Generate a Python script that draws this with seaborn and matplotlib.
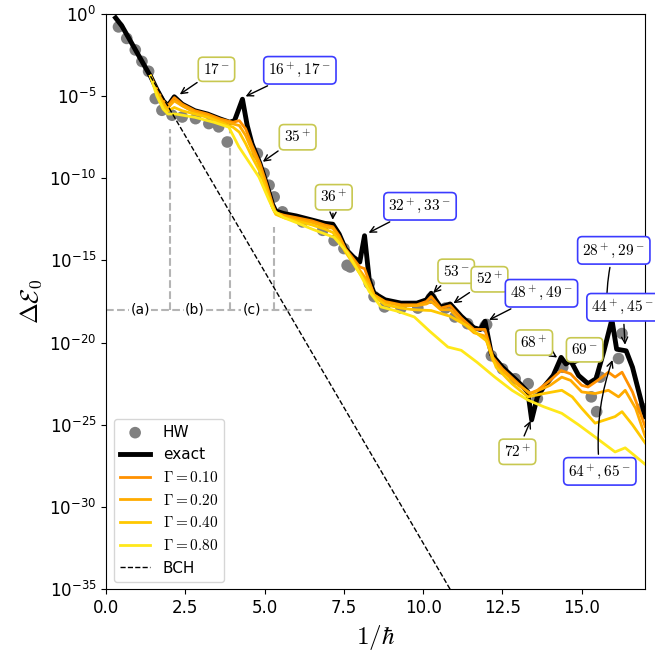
import numpy as np
import pandas as pd
import matplotlib
matplotlib.use("Agg")
import matplotlib.pyplot as plt
import seaborn as sns
from matplotlib.ticker import NullLocator

# ---- data (log10 of the error) ----
hw_x = [0.39, 0.65, 0.92, 1.13, 1.34, 1.55, 1.76, 2.08, 2.4, 2.82, 3.24, 3.55, 3.82,
        4.77, 4.98, 5.14, 5.3, 5.56, 6.19, 6.83, 7.19, 7.5, 7.6, 7.7, 8.3, 8.45, 8.78,
        9.3, 9.83, 10.25, 10.7, 11.0, 11.4, 11.95, 12.0, 12.15, 12.5, 12.9, 13.31,
        13.6, 14.4, 15.3, 15.47, 15.58, 16.16, 16.27, 16.9]
hw_logy = [-0.8, -1.5, -2.2, -2.9, -3.5, -5.16, -5.87, -6.17, -6.28, -6.38, -6.68, -6.88, -7.8,
           -8.5, -9.7, -10.43, -11.14, -12.05, -12.66, -13.17, -13.8, -14.28, -15.3, -15.4,
           -16.4, -17.2, -17.83, -17.9, -17.9, -17.3, -17.9, -18.44, -18.85, -19.0, -18.9,
           -20.8, -21.6, -22.2, -22.5, -23.4, -21.5, -23.3, -24.2, -22.1, -20.97, -19.45, -24.0]

exact_x = [0.3, 0.5, 0.75, 1.0, 1.25, 1.4, 1.6, 1.8, 1.95, 2.15, 2.4, 2.8, 3.2, 3.6, 3.9,
           4.05, 4.3, 4.45, 4.6, 4.85, 5.05, 5.25, 5.35, 5.6, 6.0, 6.5, 6.9, 7.15, 7.35,
           7.55, 7.8, 8.0, 8.15, 8.3, 8.45, 8.8, 9.3, 9.8, 10.1, 10.25, 10.55, 10.85, 11.2,
           11.6, 11.8, 11.95, 12.15, 12.5, 13.0, 13.3, 13.42, 13.6, 13.8, 14.1, 14.35, 14.5,
           14.65, 14.9, 15.2, 15.45, 15.7, 15.95, 16.1, 16.4, 16.6, 16.8, 17.0]
exact_logy = [-0.25, -0.75, -1.6, -2.45, -3.3, -3.8, -4.6, -5.3, -5.6, -5.05, -5.5, -5.9,
              -6.1, -6.4, -6.6, -6.5, -5.2, -6.8, -7.9, -9.1, -10.3, -11.6, -12.0, -12.15,
              -12.3, -12.55, -12.75, -12.8, -13.4, -14.3, -14.8, -15.1, -13.5, -16.2, -17.0,
              -17.4, -17.6, -17.6, -17.4, -17.0, -17.85, -17.65, -18.4, -19.1, -19.2, -18.7,
              -20.7, -21.5, -22.4, -23.0, -24.7, -23.3, -22.7, -22.0, -20.9, -21.3, -21.1,
              -22.0, -22.5, -22.2, -20.5, -18.6, -20.4, -20.5, -21.5, -23.0, -24.5]

g01_x = [1.4, 1.6, 1.8, 1.95, 2.15, 2.4, 2.8, 3.2, 3.6, 4.0, 4.2, 4.4, 4.6, 4.85, 5.05,
         5.25, 5.35, 5.6, 6.0, 6.5, 6.9, 7.15, 7.35, 7.55, 7.8, 8.0, 8.15, 8.3, 8.45, 8.8,
         9.3, 9.8, 10.1, 10.25, 10.55, 10.85, 11.2, 11.6, 11.95, 12.2, 12.5, 13.0, 13.35,
         13.6, 14.0, 14.35, 14.65, 15.0, 15.2, 15.5, 15.84, 16.05, 16.27, 16.6, 17.0]
g01_logy = [-3.8, -4.6, -5.3, -5.6, -5.1, -5.5, -5.9, -6.1, -6.4, -6.6, -6.5, -7.0, -8.0,
            -9.1, -10.3, -11.6, -12.1, -12.25, -12.4, -12.6, -12.85, -12.95, -13.5, -14.3,
            -14.9, -15.4, -15.5, -16.3, -17.1, -17.5, -17.7, -17.7, -17.5, -17.2, -17.9,
            -17.75, -18.5, -19.2, -19.2, -20.9, -21.6, -22.5, -23.1, -22.9, -22.3, -21.7,
            -21.9, -22.6, -22.7, -22.3, -21.8, -22.1, -21.8, -23.0, -25.1]

g02_x = [1.4, 1.6, 1.8, 1.95, 2.15, 2.4, 2.8, 3.2, 3.6, 4.0, 4.2, 4.4, 4.6, 4.85, 5.05,
         5.25, 5.35, 5.6, 6.0, 6.5, 6.9, 7.15, 7.35, 7.55, 7.8, 8.0, 8.3, 8.45, 8.8, 9.3,
         9.8, 10.1, 10.25, 10.55, 10.85, 11.2, 11.6, 11.95, 12.2, 12.5, 13.0, 13.4, 14.0,
         14.37, 14.65, 15.0, 15.42, 15.84, 16.16, 16.37, 16.7, 17.0]
g02_logy = [-3.8, -4.7, -5.4, -5.7, -5.3, -5.6, -6.0, -6.2, -6.5, -6.7, -6.8, -7.4, -8.3,
            -9.3, -10.5, -11.7, -12.1, -12.3, -12.5, -12.7, -12.95, -13.05, -13.6, -14.4,
            -15.0, -15.6, -16.4, -17.1, -17.55, -17.75, -17.75, -17.65, -17.5, -18.0,
            -18.0, -18.7, -19.4, -19.6, -21.1, -21.7, -22.6, -23.1, -22.6, -22.1, -22.3,
            -23.0, -23.1, -22.9, -23.3, -22.9, -24.0, -25.7]

g04_x = [1.4, 1.6, 1.8, 1.95, 2.15, 2.4, 2.8, 3.2, 3.6, 4.0, 4.2, 4.4, 4.6, 4.85, 5.05,
         5.25, 5.35, 5.6, 6.0, 6.5, 6.9, 7.15, 7.35, 7.55, 7.8, 8.0, 8.3, 8.45, 8.8, 9.3,
         9.7, 10.25, 10.85, 11.4, 12.0, 12.3, 12.8, 13.3, 13.8, 14.37, 14.7, 15.0, 15.42,
         16.05, 16.27, 16.6, 17.0]
g04_logy = [-3.8, -4.8, -5.6, -5.9, -5.7, -5.9, -6.1, -6.3, -6.6, -6.9, -7.2, -7.9, -8.7,
            -9.6, -10.7, -11.8, -12.2, -12.4, -12.6, -12.85, -13.1, -13.3, -13.8, -14.5,
            -15.2, -15.8, -16.6, -17.2, -17.7, -17.9, -18.0, -18.05, -18.4, -19.0, -19.9,
            -21.5, -22.5, -23.3, -23.1, -22.9, -23.3, -24.0, -24.9, -24.5, -24.2, -25.0,
            -26.1]

g08_x = [1.4, 1.6, 1.8, 1.95, 2.2, 2.8, 3.4, 3.87, 4.19, 4.5, 4.82, 5.14, 5.3, 5.6, 6.0,
         6.5, 7.19, 7.6, 8.0, 8.3, 8.67, 9.2, 9.72, 10.2, 10.78, 11.2, 11.7, 12.26, 12.8,
         13.31, 13.8, 14.37, 14.9, 15.42, 16.05, 16.37, 17.0]
g08_logy = [-3.8, -5.0, -5.8, -6.1, -6.1, -6.3, -6.6, -6.9, -8.1, -9.0, -9.93, -11.35,
            -12.0, -12.4, -12.7, -13.1, -13.6, -14.5, -15.8, -16.9, -17.83, -18.1, -18.44,
            -19.3, -20.27, -20.47, -21.2, -22.1, -22.9, -23.5, -23.9, -24.3, -25.0, -25.74,
            -26.65, -26.4, -27.4]

bch_x = [1.4, 11.0]
bch_logy = [-3.8, -35.5]

gamma_labels = ["0.10", "0.20", "0.40", "0.80"]
gamma_colors = ["#ff9100", "#ffab00", "#ffc800", "#ffe81a"]

# region markers (a)/(b)/(c)
region_x = [2.0, 3.9, 5.3]
region_top = [-7.0, -7.0, -13.0]
region_level = -18.0
region_names = ["(a)", "(b)", "(c)"]
region_label_x = [1.08, 2.8, 4.6]

# resonance annotations: label, tip, text position, edge colour, curvature
ann_labels = [r"$17^-$", r"$16^+,17^-$", r"$35^+$", r"$36^+$", r"$32^+,33^-$", r"$53^-$",
              r"$52^+$", r"$48^+,49^-$", r"$68^+$", r"$69^-$", r"$72^+$", r"$28^+,29^-$",
              r"$44^+,45^-$", r"$64^+,65^-$"]
ann_tip_x = [2.25, 4.32, 4.87, 7.14, 8.2, 10.25, 10.88, 12.0, 14.3, 14.68, 13.42, 15.8, 16.37, 16.0]
ann_tip_logy = [-5.0, -5.1, -9.1, -12.7, -13.4, -17.1, -17.7, -18.7, -21.0, -21.4, -24.6, -18.1, -20.3, -20.9]
ann_txt_x = [3.48, 6.11, 6.04, 7.18, 9.9, 11.04, 12.09, 13.73, 13.5, 15.09, 12.97, 16.01, 16.3, 15.57]
ann_txt_logy = [-3.38, -3.44, -7.51, -11.16, -11.71, -15.66, -16.15, -17.0, -20.0, -20.44, -26.64, -14.39, -17.85, -27.83]
ann_blue = [False, True, False, False, True, False, False, True, False, False, False, True, True, True]
ann_rad = [0, 0, 0, 0, 0, 0, 0, 0, 0, 0, 0, 0.08, 0, -0.12]

plt.rcParams["mathtext.fontset"] = "cm"

fig = plt.figure(figsize=(6.55, 6.54), dpi=100)
ax = fig.add_axes([0.162, 0.099, 0.823, 0.880])

def pw(v):
    return 10.0 ** np.asarray(v)

sns.scatterplot(x=hw_x, y=pw(hw_logy), ax=ax, color="gray", s=70, edgecolor="none",
                label="HW", zorder=2)
sns.lineplot(x=exact_x, y=pw(exact_logy), ax=ax, color="black", lw=3.5, label="exact",
             sort=False, zorder=3)
for gx, gy, gl, gc in zip([g01_x, g02_x, g04_x, g08_x], [g01_logy, g02_logy, g04_logy, g08_logy],
                          gamma_labels, gamma_colors):
    sns.lineplot(x=gx, y=pw(gy), ax=ax, color=gc, lw=2, label=rf"$\Gamma = {gl}$",
                 sort=False, zorder=4)
sns.lineplot(x=bch_x, y=pw(bch_logy), ax=ax, color="black", lw=1, ls="--", label="BCH",
             sort=False, zorder=5)

# dashed region boundaries
ax.plot([0, 6.5], [10.0 ** region_level] * 2, color="#b4b4b4", ls="--", lw=1.5, zorder=1)
for rx, rt in zip(region_x, region_top):
    ax.plot([rx, rx], [10.0 ** region_level, 10.0 ** rt], color="#b4b4b4", ls="--", lw=1.5, zorder=1)
for lx, name in zip(region_label_x, region_names):
    ax.text(lx, 10.0 ** region_level, name, ha="center", va="center", fontsize=10,
            bbox=dict(facecolor="white", edgecolor="none", pad=1), zorder=1.5)

for lab, tx, ty, px, py, blue, rad in zip(ann_labels, ann_tip_x, ann_tip_logy, ann_txt_x,
                                         ann_txt_logy, ann_blue, ann_rad):
    ec = "#3b3bff" if blue else "#c8c850"
    ax.annotate(lab, xy=(tx, 10.0 ** ty), xytext=(px, 10.0 ** py), fontsize=11,
                ha="center", va="center", annotation_clip=False,
                bbox=dict(boxstyle="round,pad=0.3", facecolor="white", edgecolor=ec, lw=1.2),
                arrowprops=dict(arrowstyle="->", color="black", lw=1,
                                connectionstyle=f"arc3,rad={rad}"),
                zorder=10)

ax.set_yscale("log")
ax.set_xlim(0, 17)
ax.set_ylim(1e-35, 1e0)
ax.set_xticks(np.arange(0, 17, 2.5))
ax.set_yticks([10.0 ** -k for k in range(0, 36, 5)])
ax.yaxis.set_minor_locator(NullLocator())
ax.tick_params(labelsize=12)
ax.set_xlabel(r"$1/\hbar$", fontsize=18)
ax.set_ylabel(r"$\Delta\mathcal{E}_0$", fontsize=18)
ax.legend(loc="lower left", fontsize=11)

fig.savefig("out.png", dpi=100)
